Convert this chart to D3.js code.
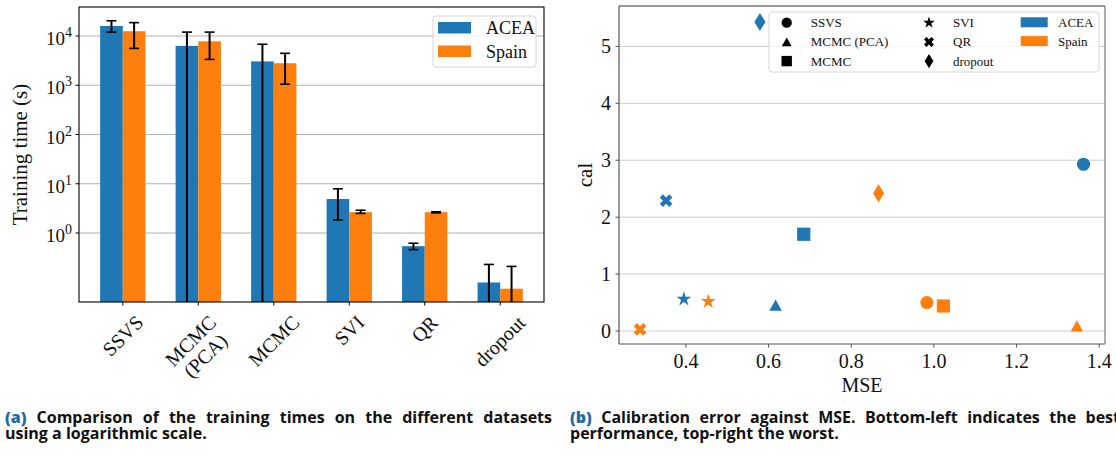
<!doctype html>
<html>
<head>
<meta charset="utf-8">
<title>Training time and calibration</title>
<script src="https://d3js.org/d3.v7.min.js"></script>
<style>
  body { margin: 0; background: #fff; width: 1116px; height: 457px; overflow: hidden; position: relative; }
  svg { position: absolute; left: 0; top: 0; }
  .cap { position: absolute; font-family: "Open Sans", sans-serif; font-weight: bold; font-size: 16px;
         line-height: 16px; height: 16px; color: #111; white-space: nowrap; }
  .cap.j { text-align: justify; text-align-last: justify; }
  .cap b { color: #1f6aa5; }
</style>
</head>
<body>
<div class="cap j" style="left:5px; top:409px; width:547px;"><b>(a)</b> Comparison of the training times on the different datasets</div>
<div class="cap" style="left:5px; top:425px;">using a logarithmic scale.</div>
<div class="cap j" style="left:570px; top:409px; width:550px;"><b>(b)</b> Calibration error against MSE. Bottom-left indicates the best</div>
<div class="cap" style="left:570px; top:425px;">performance, top-right the worst.</div>
<script>

// ---- data: training time (s), mean and error bar bounds
var categories = ["SSVS", "MCMC\n(PCA)", "MCMC", "SVI", "QR", "dropout"];
var timeAcea   = [16000, 6300, 3050, 4.9, 0.54, 0.099];
var timeAceaLo = [12000, 0, 0, 1.84, 0.46, 0];
var timeAceaHi = [20400, 12000, 6800, 7.9, 0.62, 0.23];
var timeSpain   = [12500, 7800, 2800, 2.65, 2.65, 0.074];
var timeSpainLo = [5600, 3350, 1050, 2.5, 2.56, 0];
var timeSpainHi = [18700, 12000, 4450, 2.9, 2.7, 0.21];
var logTicks = [1, 10, 100, 1000, 10000];

// ---- data: calibration vs MSE
var methods  = ["SSVS", "MCMC (PCA)", "MCMC", "SVI", "QR", "dropout"];
var mseAcea  = [1.362, 0.617, 0.685, 0.395, 0.352, 0.579];
var calAcea  = [2.93, 0.456, 1.70, 0.56, 2.29, 5.43];
var mseSpain = [0.983, 1.346, 1.023, 0.454, 0.289, 0.866];
var calSpain = [0.50, 0.09, 0.44, 0.52, 0.03, 2.42];
var mseTicks = [0.4, 0.6, 0.8, 1.0, 1.2, 1.4];
var calTicks = [0, 1, 2, 3, 4, 5];

var datasets = ["ACEA", "Spain"];
var color = d3.scaleOrdinal().domain(datasets).range(["#1f77b4", "#ff7f0e"]);
var serif = "'Liberation Serif', 'DejaVu Serif', serif";

var svg = d3.select("body").append("svg")
    .attr("width", 1116)
    .attr("height", 400);

// ================= left: bar chart, log scale =================
var L = {left: 79, right: 544, top: 7, bottom: 302};

var x = d3.scaleLinear().domain([-0.58, 5.58]).range([L.left, L.right]);
var y = d3.scaleLog().domain([Math.pow(10, -1.401), Math.pow(10, 4.589)]).range([L.bottom, L.top]);

svg.append("clipPath").attr("id", "clipL")
  .append("rect")
    .attr("x", L.left).attr("y", L.top)
    .attr("width", L.right - L.left).attr("height", L.bottom - L.top);

var left = svg.append("g");

// grid
left.selectAll(".gridL")
    .data(logTicks)
  .enter().append("line")
    .attr("x1", L.left).attr("x2", L.right)
    .attr("y1", function(d) { return y(d); })
    .attr("y2", function(d) { return y(d); })
    .attr("stroke", "#b0b0b0").attr("stroke-width", 1);

var bw = 0.3;
var series = [
  {name: "ACEA", off: -0.15, v: timeAcea, lo: timeAceaLo, hi: timeAceaHi},
  {name: "Spain", off: 0.15, v: timeSpain, lo: timeSpainLo, hi: timeSpainHi}
];

var plot = left.append("g").attr("clip-path", "url(#clipL)");

series.forEach(function(s) {
  plot.selectAll(".bar-" + s.name)
      .data(s.v)
    .enter().append("rect")
      .attr("x", function(d, i) { return x(i + s.off - bw / 2); })
      .attr("width", x(bw) - x(0))
      .attr("y", function(d) { return y(d); })
      .attr("height", function(d) { return L.bottom - y(d); })
      .attr("fill", color(s.name));
});

series.forEach(function(s) {
  s.v.forEach(function(d, i) {
    var cx = x(i + s.off);
    var yHi = y(s.hi[i]);
    var yLo = s.lo[i] > 0 ? y(s.lo[i]) : L.bottom + 10;
    plot.append("line")
        .attr("x1", cx).attr("x2", cx)
        .attr("y1", yHi).attr("y2", yLo)
        .attr("stroke", "#000").attr("stroke-width", 2);
    [s.hi[i], s.lo[i]].forEach(function(c) {
      if (c <= 0) return;
      plot.append("line")
          .attr("x1", cx - 5).attr("x2", cx + 5)
          .attr("y1", y(c)).attr("y2", y(c))
          .attr("stroke", "#000").attr("stroke-width", 1.6);
    });
  });
});

// spines
left.append("rect")
    .attr("x", L.left).attr("y", L.top)
    .attr("width", L.right - L.left).attr("height", L.bottom - L.top)
    .attr("fill", "none").attr("stroke", "#000").attr("stroke-width", 1.1);

// y ticks 10^k
logTicks.forEach(function(t) {
  var yy = y(t);
  left.append("line")
      .attr("x1", L.left - 3.5).attr("x2", L.left)
      .attr("y1", yy).attr("y2", yy)
      .attr("stroke", "#000");
  var tx = left.append("text")
      .attr("x", L.left - 7).attr("y", yy + 9)
      .attr("text-anchor", "end")
      .style("font-family", serif).style("font-size", "19px").style("fill", "#111");
  tx.append("tspan").text("10");
  tx.append("tspan").attr("dy", -8).style("font-size", "14px").text(Math.round(Math.log10(t)));
});

// x ticks + rotated labels
categories.forEach(function(c, i) {
  var xx = x(i);
  left.append("line")
      .attr("x1", xx).attr("x2", xx)
      .attr("y1", L.bottom).attr("y2", L.bottom + 3.5)
      .attr("stroke", "#000");
  var g = left.append("g");
  var t = g.append("text")
      .attr("text-anchor", "middle")
      .style("font-family", serif).style("font-size", "20px").style("fill", "#111");
  c.split("\n").forEach(function(line, k) {
    t.append("tspan").attr("x", 0).attr("dy", k == 0 ? 0 : "1.05em").text(line);
  });
  var bb = t.node().getBBox();
  var H = (bb.width + bb.height) / Math.SQRT2;
  g.attr("transform", "translate(" + xx + "," + (L.bottom + 9 + H / 2) + ") rotate(-45) translate("
      + (-(bb.x + bb.width / 2)) + "," + (-(bb.y + bb.height / 2)) + ")");
});

left.append("text")
    .attr("transform", "translate(27," + ((L.top + L.bottom) / 2) + ") rotate(-90)")
    .attr("text-anchor", "middle")
    .style("font-family", serif).style("font-size", "21px").style("fill", "#111")
    .text("Training time (s)");

// legend
var legL = left.append("g").attr("transform", "translate(433,16)");
legL.append("rect")
    .attr("width", 103).attr("height", 51).attr("rx", 3)
    .attr("fill", "#fff").attr("fill-opacity", 0.8)
    .attr("stroke", "#d6d6d6");
datasets.forEach(function(d, i) {
  legL.append("rect")
      .attr("x", 5).attr("y", 6 + i * 23.5)
      .attr("width", 33).attr("height", 11.5)
      .attr("fill", color(d));
  legL.append("text")
      .attr("x", 53).attr("y", 18 + i * 23.5)
      .style("font-family", serif).style("font-size", "18px").style("fill", "#111")
      .text(d);
});

// ================= right: scatter =================
var R = {left: 619, right: 1105, top: 6, bottom: 344};
var xs = d3.scaleLinear().domain([0.238, 1.414]).range([R.left, R.right]);
var ys = d3.scaleLinear().domain([-0.228, 5.71]).range([R.bottom, R.top]);

var right = svg.append("g");

right.selectAll(".gridR")
    .data(calTicks)
  .enter().append("line")
    .attr("x1", R.left).attr("x2", R.right)
    .attr("y1", function(d) { return ys(d); })
    .attr("y2", function(d) { return ys(d); })
    .attr("stroke", "#cfcfcf").attr("stroke-width", 1);

// matplotlib-like marker shapes
var triUp = {draw: function(ctx, size) {
  var h = Math.sqrt(size * 2 / Math.sqrt(3)) * Math.sqrt(3) / 2 * 0.95, w = h * 1.12;
  ctx.moveTo(0, -h / 2); ctx.lineTo(w / 2, h / 2); ctx.lineTo(-w / 2, h / 2); ctx.closePath();
}};
var thinDiamond = {draw: function(ctx, size) {
  var h = Math.sqrt(size * 3.4), w = h * 0.62;
  ctx.moveTo(0, -h / 2); ctx.lineTo(w / 2, 0); ctx.lineTo(0, h / 2); ctx.lineTo(-w / 2, 0); ctx.closePath();
}};
var shapes = [d3.symbolCircle, triUp, d3.symbolSquare, d3.symbolStar, d3.symbolCross, thinDiamond];
var sizes  = [135, 160, 175, 68, 100, 95];
var rotate = [0, 0, 0, 0, 45, 0];

function drawPoints(mse, cal, name) {
  right.selectAll(".pt-" + name)
      .data(mse)
    .enter().append("path")
      .attr("d", function(d, i) { return d3.symbol().type(shapes[i]).size(sizes[i])(); })
      .attr("transform", function(d, i) {
        return "translate(" + xs(d) + "," + ys(cal[i]) + ") rotate(" + rotate[i] + ")";
      })
      .attr("fill", color(name));
}
drawPoints(mseAcea, calAcea, "ACEA");
drawPoints(mseSpain, calSpain, "Spain");

// spines
right.append("line").attr("x1", R.left).attr("x2", R.left).attr("y1", R.top).attr("y2", R.bottom)
    .attr("stroke", "#555").attr("stroke-width", 1.2);
right.append("line").attr("x1", R.left).attr("x2", R.right).attr("y1", R.bottom).attr("y2", R.bottom)
    .attr("stroke", "#555").attr("stroke-width", 1.2);
right.append("line").attr("x1", R.left).attr("x2", R.right).attr("y1", R.top).attr("y2", R.top)
    .attr("stroke", "#333").attr("stroke-width", 1.2);
right.append("line").attr("x1", R.right).attr("x2", R.right).attr("y1", R.top).attr("y2", R.bottom)
    .attr("stroke", "#777").attr("stroke-width", 1.2);

calTicks.forEach(function(t) {
  right.append("line").attr("x1", R.left - 3.5).attr("x2", R.left)
      .attr("y1", ys(t)).attr("y2", ys(t)).attr("stroke", "#555");
  right.append("text")
      .attr("x", R.left - 8).attr("y", ys(t) + 7)
      .attr("text-anchor", "end")
      .style("font-family", serif).style("font-size", "20px").style("fill", "#111")
      .text(t);
});
mseTicks.forEach(function(t) {
  right.append("line").attr("x1", xs(t)).attr("x2", xs(t))
      .attr("y1", R.bottom).attr("y2", R.bottom + 3.5).attr("stroke", "#555");
  right.append("text")
      .attr("x", xs(t)).attr("y", 368)
      .attr("text-anchor", "middle")
      .style("font-family", serif).style("font-size", "20px").style("fill", "#111")
      .text(d3.format(".1f")(t));
});

right.append("text")
    .attr("x", (R.left + R.right) / 2).attr("y", 392)
    .attr("text-anchor", "middle")
    .style("font-family", serif).style("font-size", "20px").style("fill", "#111")
    .text("MSE");
right.append("text")
    .attr("transform", "translate(592," + ((R.top + R.bottom) / 2) + ") rotate(-90)")
    .attr("text-anchor", "middle")
    .style("font-family", serif).style("font-size", "21px").style("fill", "#111")
    .text("cal");

// legend: markers for methods, patches for datasets
var legR = right.append("g").attr("transform", "translate(769,12)");
legR.append("rect")
    .attr("width", 330).attr("height", 60).attr("rx", 3)
    .attr("fill", "#fff").attr("fill-opacity", 0.8)
    .attr("stroke", "#d6d6d6");
methods.forEach(function(m, i) {
  var col = Math.floor(i / 3), row = i % 3;
  var mx = col == 0 ? 17.7 : 160;
  var my = 10.7 + row * 19.2;
  legR.append("path")
      .attr("d", d3.symbol().type(shapes[i]).size(sizes[i] * 0.62)())
      .attr("transform", "translate(" + mx + "," + my + ") rotate(" + rotate[i] + ")")
      .attr("fill", "#000");
  legR.append("text")
      .attr("x", mx + 24).attr("y", my + 4.5)
      .style("font-family", serif).style("font-size", "13px").style("fill", "#111")
      .text(m);
});
datasets.forEach(function(d, i) {
  legR.append("rect")
      .attr("x", 251.7).attr("y", 5.3 + i * 18.8)
      .attr("width", 27).attr("height", 10)
      .attr("fill", color(d));
  legR.append("text")
      .attr("x", 289).attr("y", 15 + i * 18.8)
      .style("font-family", serif).style("font-size", "13px").style("fill", "#111")
      .text(d);
});

</script>
</body>
</html>
